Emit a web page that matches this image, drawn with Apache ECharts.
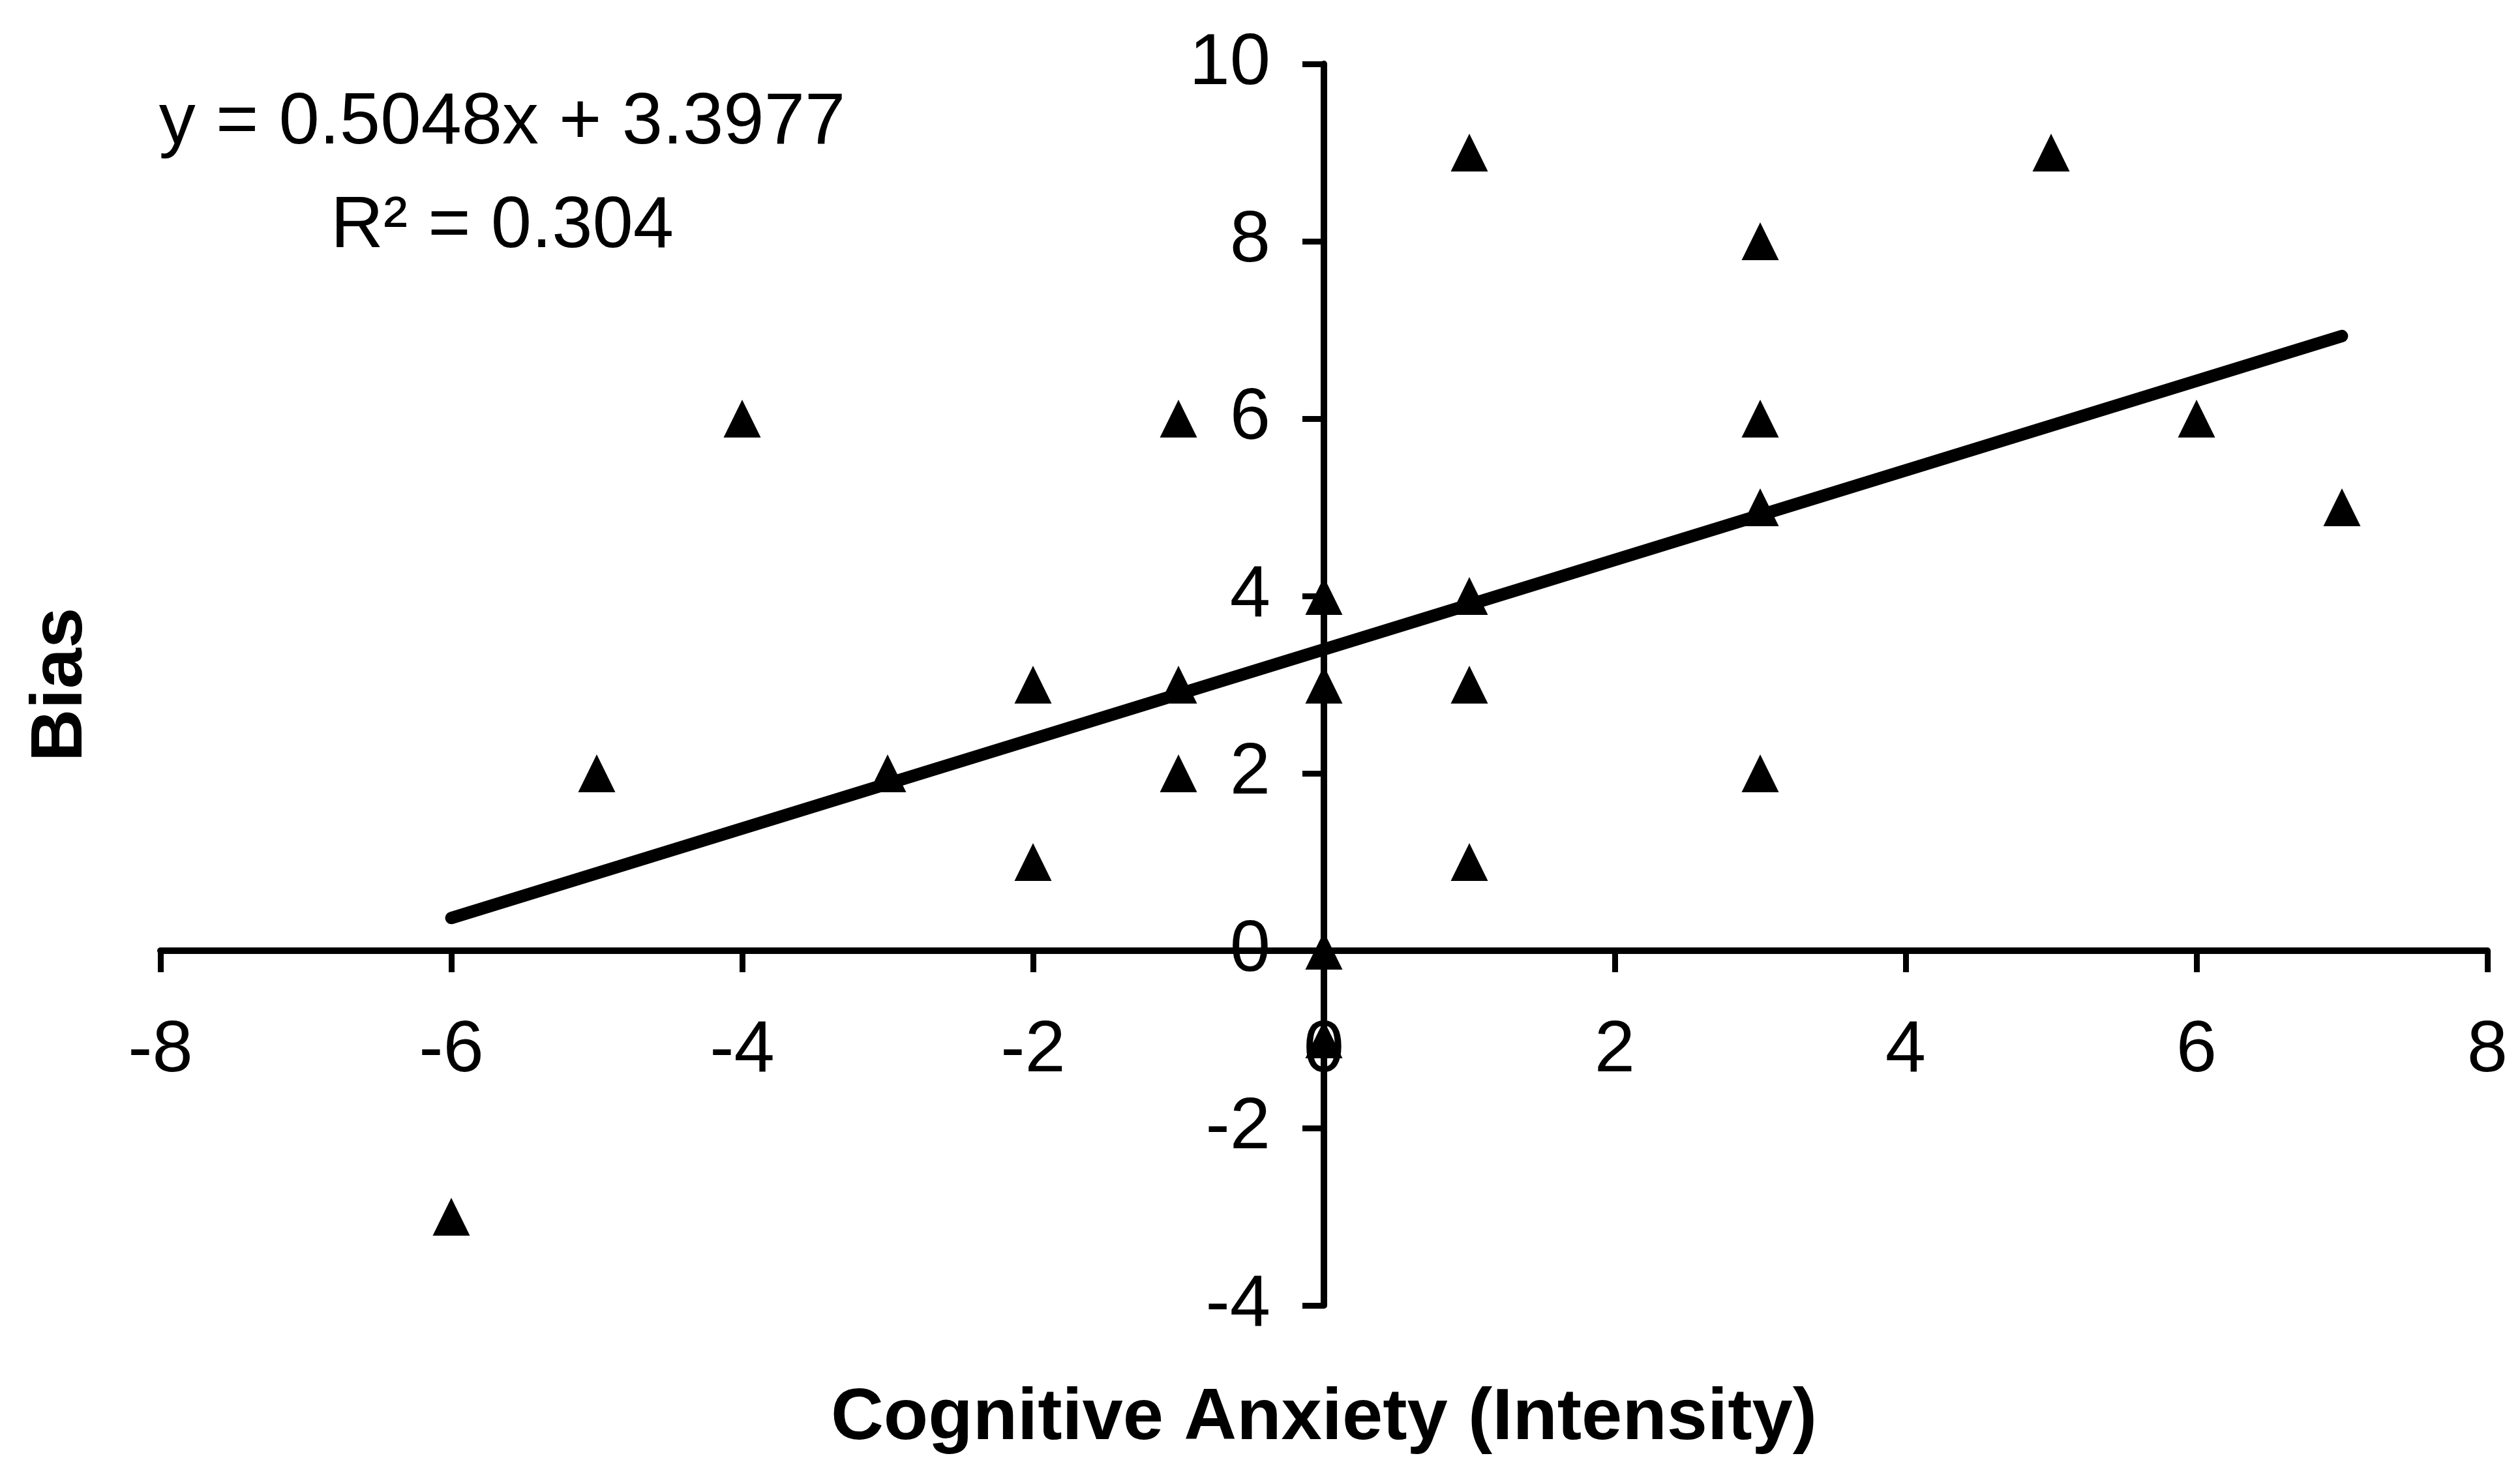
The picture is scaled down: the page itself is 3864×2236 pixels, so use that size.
<!DOCTYPE html>
<html>
<head>
<meta charset="utf-8">
<title>Bias vs Cognitive Anxiety (Intensity)</title>
<script src="https://cdn.jsdelivr.net/npm/echarts@6/dist/echarts.min.js"></script>
<style>
  html, body { margin: 0; padding: 0; background: #ffffff; }
  #chart { width: 3864px; height: 2236px; }
</style>
</head>
<body>
<div id="chart"></div>
<script>
// Observations: cognitive anxiety intensity (x) against bias (y)
const anxiety = [1, 5, 3, -4, -1, 3, 6, 3, 7, 0, 1, -2, -1, 0, 1, -5, -3, -1, 3, -2, 1, 0, 0, -6];
const bias    = [9, 9, 8,  6,  6, 6, 6, 5, 5, 4, 4,  3,  3, 3, 3,  2,  2,  2, 2,  1, 1, 0, -1, -3];

// Linear trendline as reported on the chart
const slope = 0.5048;
const intercept = 3.3977;
const rSquared = 0.304;
const trendRange = [-6, 7];

// Axis tick values
const xTicks = [-8, -6, -4, -2, 0, 2, 4, 6, 8];
const yTicks = [-4, -2, 0, 2, 4, 6, 8, 10];

const FONT = '"Liberation Sans", Arial, Helvetica, sans-serif';

const points = anxiety.map((x, i) => [x, bias[i]]);
const trendPoints = trendRange.map(x => [x, slope * x + intercept]);

// Plot area in pixels
const GRID = { left: 246, right: 50, top: 98, bottom: 234 };
const W = 3864, H = 2236;

// The axes cross at the origin: shift each axis in from its grid edge
const xMin = xTicks[0], xMax = xTicks[xTicks.length - 1];
const yMin = yTicks[0], yMax = yTicks[yTicks.length - 1];
const plotW = W - GRID.left - GRID.right;
const plotH = H - GRID.top - GRID.bottom;
const yAxisShift = (0 - xMin) / (xMax - xMin) * plotW;
const xAxisShift = (0 - yMin) / (yMax - yMin) * plotH;

const chart = echarts.init(document.getElementById('chart'), null, { renderer: 'canvas' });

const axisCommon = {
  type: 'value',
  axisLine: { show: true, onZero: false, lineStyle: { color: '#000', width: 10 } },
  axisTick: { show: true, length: 33, lineStyle: { color: '#000', width: 9 } },
  splitLine: { show: false },
  axisLabel: { color: '#000', fontFamily: FONT, fontSize: 112 },
  nameTextStyle: { color: '#000', fontFamily: FONT, fontSize: 112, fontWeight: 'bold' }
};

chart.setOption({
  backgroundColor: '#ffffff',
  animation: false,
  grid: Object.assign({ containLabel: false, outerBoundsMode: 'none' }, GRID),
  xAxis: Object.assign({}, axisCommon, {
    position: 'bottom',
    offset: -xAxisShift,
    min: xMin,
    max: xMax,
    interval: 2,
    name: 'Cognitive Anxiety (Intensity)',
    nameLocation: 'middle',
    nameGap: 662,
    axisLabel: Object.assign({}, axisCommon.axisLabel, { margin: 98 })
  }),
  yAxis: Object.assign({}, axisCommon, {
    position: 'left',
    offset: -yAxisShift,
    min: yMin,
    max: yMax,
    interval: 2,
    name: 'Bias',
    nameLocation: 'middle',
    nameGap: 1880,
    axisLabel: Object.assign({}, axisCommon.axisLabel, { margin: 82 })
  }),
  graphic: [{
    type: 'text',
    x: 770,
    y: 110,
    style: {
      text: 'y = ' + slope.toFixed(4) + 'x + ' + intercept.toFixed(4) + '\nR\u00B2 = ' + rSquared.toFixed(3),
      align: 'center',
      verticalAlign: 'top',
      fill: '#000',
      font: '112px ' + FONT,
      lineHeight: 159
    }
  }],
  series: [
    {
      name: 'Linear trend',
      type: 'line',
      data: trendPoints,
      showSymbol: false,
      symbol: 'none',
      lineStyle: { color: '#000', width: 19, cap: 'round' },
      z: 3
    },
    {
      name: 'Bias',
      type: 'scatter',
      data: points,
      symbol: 'triangle',
      symbolSize: [57, 58],
      itemStyle: { color: '#000', opacity: 1 },
      z: 4
    }
  ]
});
</script>
</body>
</html>
